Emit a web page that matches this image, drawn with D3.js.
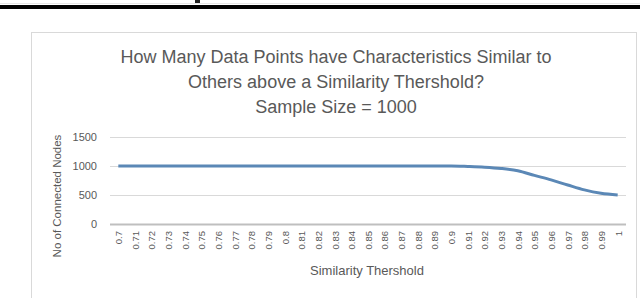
<!DOCTYPE html>
<html>
<head>
<meta charset="utf-8">
<script src="https://cdn.jsdelivr.net/npm/d3@7"></script>
<style>
  body { margin: 0; background: #fff; }
  svg { display: block; }
</style>
</head>
<body>
<svg id="chart" width="640" height="298"></svg>
<script>
// data
const thresholds = ['0.7','0.71','0.72','0.73','0.74','0.75','0.76','0.77','0.78','0.79','0.8',
  '0.81','0.82','0.83','0.84','0.85','0.86','0.87','0.88','0.89','0.9',
  '0.91','0.92','0.93','0.94','0.95','0.96','0.97','0.98','0.99','1'];
const connectedNodes = [1000,1000,1000,1000,1000,1000,1000,1000,1000,1000,1000,
  1000,1000,1000,1000,1000,1000,1000,1000,1000,1000,
  992,980,958,918,838,760,672,588,530,500];
const yTicks = [0, 500, 1000, 1500];
const titleLines = ['How Many Data Points have Characteristics Similar to',
  'Others above a Similarity Thershold?', 'Sample Size = 1000'];

const svg = d3.select('#chart');
const font = '"Liberation Sans", Arial, sans-serif';
const grey = '#595959';

// page rule at the very top
svg.append('rect').attr('x', 0).attr('y', 3).attr('width', 640).attr('height', 1).attr('fill', '#e6e6e6');
svg.append('rect').attr('x', 0).attr('y', 5).attr('width', 640).attr('height', 4).attr('fill', '#000');
svg.append('rect').attr('x', 195).attr('y', 0).attr('width', 5).attr('height', 3).attr('fill', '#222');

// chart frame
svg.append('rect')
    .attr('x', 31.5).attr('y', 32.5)
    .attr('width', 605).attr('height', 270)
    .attr('fill', '#fff').attr('stroke', '#d9d9d9');

const x = d3.scalePoint().domain(thresholds).range([110, 626]).padding(0.5);
const y = d3.scaleLinear().domain([0, 1500]).range([224, 137]);

// gridlines
svg.append('g')
    .selectAll('line')
    .data(yTicks.filter(d => d > 0))
    .join('line')
    .attr('x1', 110).attr('x2', 626)
    .attr('y1', d => y(d) + 0.5).attr('y2', d => y(d) + 0.5)
    .attr('stroke', '#d9d9d9');

// x axis
const xAxis = svg.append('g')
    .attr('transform', `translate(0,${y(0)})`)
    .call(d3.axisBottom(x).tickSize(0).tickPadding(0));
xAxis.select('.domain').attr('d', 'M110,0.5H626').attr('stroke', '#bfbfbf').attr('stroke-width', 2);
xAxis.selectAll('text')
    .attr('transform', 'rotate(-90)')
    .attr('text-anchor', 'end')
    .attr('x', -7).attr('y', 0).attr('dy', '0.35em')
    .attr('font-family', font).attr('font-size', 9.5).attr('fill', grey);

// y axis
const yAxis = svg.append('g')
    .attr('transform', 'translate(110,0)')
    .call(d3.axisLeft(y).tickValues(yTicks).tickFormat(d3.format('d')).tickSize(0).tickPadding(13));
yAxis.select('.domain').remove();
yAxis.selectAll('text').attr('font-family', font).attr('font-size', 11).attr('fill', grey);

// line
const line = d3.line()
    .x((d, i) => x(thresholds[i]))
    .y(d => y(d))
    .curve(d3.curveMonotoneX);
svg.append('path')
    .datum(connectedNodes)
    .attr('d', line)
    .attr('fill', 'none')
    .attr('stroke', '#5b88b6')
    .attr('stroke-width', 3);

// title
svg.append('g')
    .selectAll('text')
    .data(titleLines)
    .join('text')
    .attr('x', 336).attr('y', (d, i) => 63 + i * 25)
    .attr('text-anchor', 'middle')
    .attr('font-family', font).attr('font-size', 18).attr('fill', grey)
    .text(d => d);

// axis titles
svg.append('text')
    .attr('x', 367).attr('y', 275)
    .attr('text-anchor', 'middle')
    .attr('font-family', font).attr('font-size', 13).attr('fill', grey)
    .text('Similarity Thershold');
svg.append('text')
    .attr('transform', 'translate(61,196) rotate(-90)')
    .attr('text-anchor', 'middle')
    .attr('font-family', font).attr('font-size', 11.5).attr('fill', grey)
    .text('No of Connected Nodes');
</script>
</body>
</html>
